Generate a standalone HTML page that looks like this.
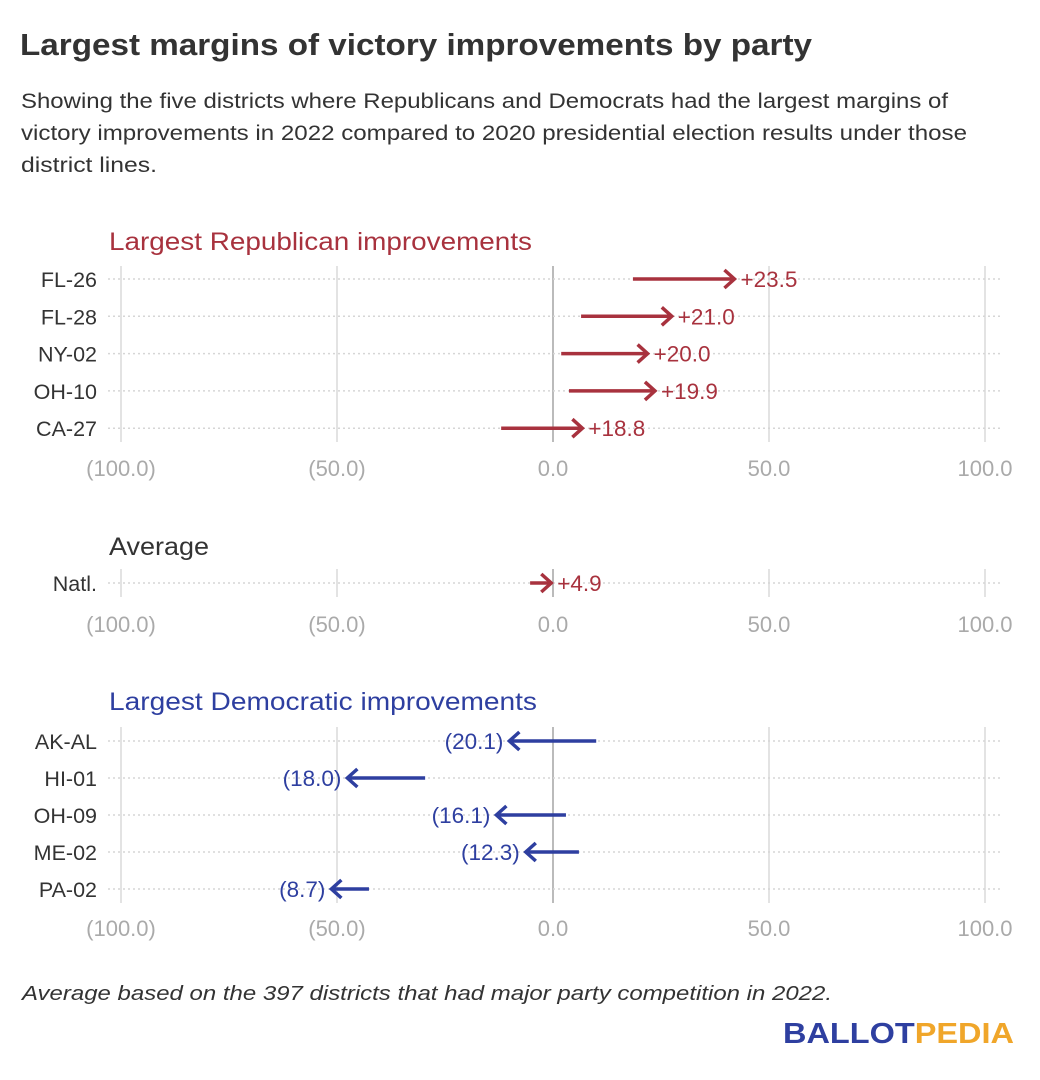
<!DOCTYPE html>
<html><head><meta charset="utf-8"><style>
html,body{margin:0;padding:0;background:#fff;}
svg{display:block;font-family:"Liberation Sans",sans-serif;}
</style></head><body>
<svg id="chart" width="1040" height="1080" viewBox="0 0 1040 1080">
<text x="20" y="55" font-size="31" font-weight="bold" fill="#333" textLength="792" lengthAdjust="spacingAndGlyphs">Largest margins of victory improvements by party</text>
<text x="21" y="108" font-size="21" fill="#333" textLength="927" lengthAdjust="spacingAndGlyphs">Showing the five districts where Republicans and Democrats had the largest margins of</text>
<text x="21" y="140" font-size="21" fill="#333" textLength="946" lengthAdjust="spacingAndGlyphs">victory improvements in 2022 compared to 2020 presidential election results under those</text>
<text x="21" y="172" font-size="21" fill="#333" textLength="136" lengthAdjust="spacingAndGlyphs">district lines.</text>
<g id="plots"></g>
<text x="22" y="1000" font-size="20" font-style="italic" fill="#333" textLength="810" lengthAdjust="spacingAndGlyphs">Average based on the 397 districts that had major party competition in 2022.</text>
<text x="783" y="1043" font-size="29" font-weight="bold" textLength="231" lengthAdjust="spacingAndGlyphs"><tspan fill="#2e3fa0">BALLOT</tspan><tspan fill="#f0a62a">PEDIA</tspan></text>
</svg>
<script>
const repLabels=["FL-26","FL-28","NY-02","OH-10","CA-27"];
const repStart=[18.5,6.5,1.9,3.7,-12.0];
const repChange=[23.5,21.0,20.0,19.9,18.8];
const avgLabels=["Natl."];
const avgStart=[-5.3];
const avgChange=[4.9];
const demLabels=["AK-AL","HI-01","OH-09","ME-02","PA-02"];
const demStart=[10.0,-29.6,3.0,6.0,-42.6];
const demChange=[-20.1,-18.0,-16.1,-12.3,-8.7];
const ticks=[-100,-50,0,50,100];
const tickLabels=["(100.0)","(50.0)","0.0","50.0","100.0"];

const NS="http://www.w3.org/2000/svg";
const g=document.getElementById('plots');
const x=v=>553+v*4.32;
function el(tag,attrs,parent){const e=document.createElementNS(NS,tag);for(const k in attrs)e.setAttribute(k,attrs[k]);(parent||g).appendChild(e);return e;}
function fmt(v){return v>=0?"+"+v.toFixed(1):"("+Math.abs(v).toFixed(1)+")";}

function panel(name,title,titleColor,titleY,titleW,labels,starts,changes,rowY,rowStep,gTop,gBot,axisY,color){
  const grp=el('g',{});
  
  
  const t=el('text',{x:109,y:titleY,'font-size':25,fill:titleColor,textLength:titleW,lengthAdjust:'spacingAndGlyphs'},grp);
  t.textContent=title;
  
  
  ticks.forEach((tv,i)=>{
    const ln=el('line',{x1:x(tv),x2:x(tv),y1:gTop,y2:gBot,stroke:tv===0?'#bbb':'#e3e3e3','stroke-width':2},grp);
    
    
    const tl=el('text',{x:x(tv),y:axisY,'font-size':22,fill:'#aaa','text-anchor':'middle'},grp);
    tl.textContent=tickLabels[i];
    
    
  });
  labels.forEach((lb,i)=>{
    const y=rowY+i*rowStep;
    const dl=el('line',{x1:108,x2:1000,y1:y,y2:y,stroke:'#d6d6d6','stroke-width':1.5,'stroke-dasharray':'2,3'},grp);
    
    
    const lt=el('text',{x:97,y:y+8,'font-size':21.5,fill:'#333','text-anchor':'end'},grp);
    lt.textContent=lb;
    
    
    const s=starts[i],e=s+changes[i];
    const x1=x(s),x2=x(e),d=changes[i]>=0?1:-1;
    const ar=el('g',{},grp);
    
    
    el('line',{x1:x1,x2:x2-d*1.5,y1:y,y2:y,stroke:color,'stroke-width':3.5},ar);
    el('polyline',{points:`${x2-d*10},${y-9} ${x2},${y} ${x2-d*10},${y+9}`,fill:'none',stroke:color,'stroke-width':3.5,'stroke-linejoin':'miter'},ar);
    const vt=el('text',{x:x2+d*6,y:y+8,'font-size':22.5,fill:color,'text-anchor':d>0?'start':'end'},grp);
    vt.textContent=fmt(changes[i]);
    
    
  });
}
panel('republican-panel','Largest Republican improvements','#a8323e',250,423,repLabels,repStart,repChange,279,37.3,266,442,476,'#a8323e');
panel('average-panel','Average','#333',555,100,avgLabels,avgStart,avgChange,583,37,569,597,632,'#a8323e');
panel('democratic-panel','Largest Democratic improvements','#2e3fa0',710,428,demLabels,demStart,demChange,741,37,727,903,936,'#2e3fa0');
</script>
</body></html>
